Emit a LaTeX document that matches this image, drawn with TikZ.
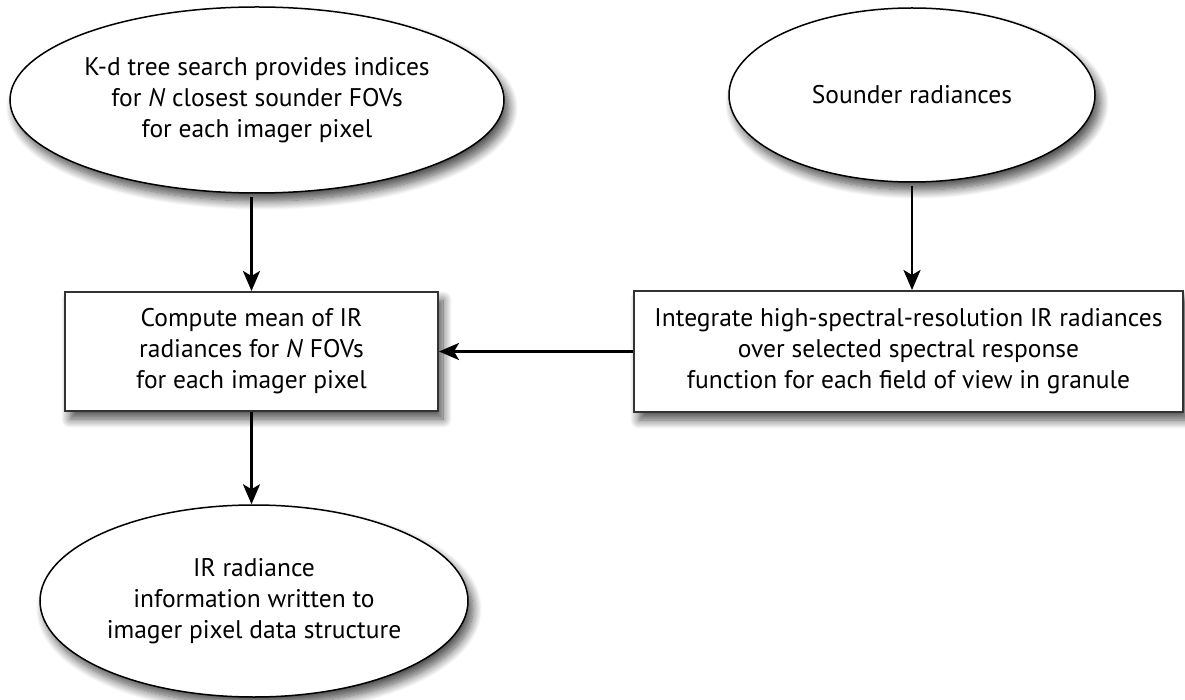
\documentclass[tikz,border=0pt]{standalone}
\usepackage{fontspec}
\setmainfont{PT Sans}
\usetikzlibrary{shapes.geometric,arrows.meta,shadows.blur}

\begin{document}
\begin{tikzpicture}[x=1pt,y=-1pt,
    font=\fontsize{25.5}{31}\selectfont,
    shdw/.style={blur shadow={shadow xshift=5pt,shadow yshift=-8pt,shadow blur radius=9pt,shadow blur steps=12,shadow opacity=70}},
    oval/.style={ellipse,draw=black,line width=1.5pt,fill=white,align=center,inner sep=0pt,shdw},
    procbox/.style={rectangle,draw=black!80,line width=2pt,fill=white,align=center,inner sep=0pt,shdw},
    flow/.style={line width=2.8pt,-{Stealth[length=20pt,width=17pt,inset=5pt]}}]
  \useasboundingbox (0,0) rectangle (1185,700);
  \node [oval,minimum width=494pt,minimum height=186pt] (kdsearch) at (257,100)
    {K-d tree search provides indices\\ for \textit{N} closest sounder FOVs\\ for each imager pixel};
  \node [oval,minimum width=366pt,minimum height=174pt] (sounder) at (912,95) {Sounder radiances};
  \node [procbox,minimum width=373pt,minimum height=119pt] (compute) at (251.5,351.5)
    {Compute mean of IR\\ radiances for \textit{N} FOVs\\ for each imager pixel};
  \node [procbox,minimum width=549pt,minimum height=121pt] (integrate) at (908.5,351.5)
    {Integrate high-spectral-resolution IR radiances\\ over selected spectral response\\ function for each field of view in granule};
  \node [oval,minimum width=428pt,minimum height=192pt] (irout) at (254,601)
    {IR radiance\\ information written to\\ imager pixel data structure};
  \draw [flow] ([yshift=-3pt]kdsearch.south -| compute.north) -- (compute.north);
  \draw [flow] ([yshift=-3pt]sounder.south) -- (sounder.south |- integrate.north);
  \draw [flow] (integrate.west) -- (compute.east);
  \draw [flow] (compute.south) -- (compute.south |- irout.north);
\end{tikzpicture}
\end{document}
